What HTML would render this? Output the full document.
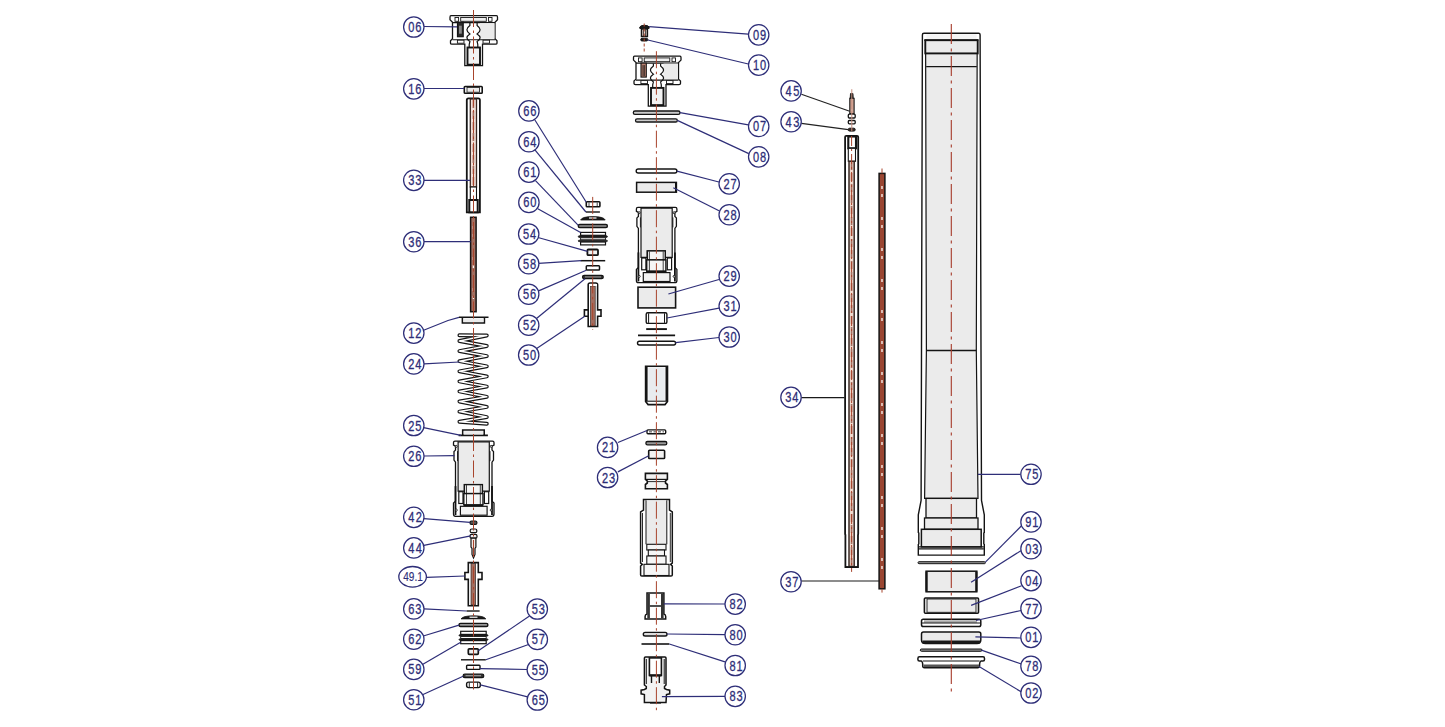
<!DOCTYPE html>
<html><head><meta charset="utf-8"><style>
html,body{margin:0;padding:0;background:#fff;}
svg{display:block;font-family:"Liberation Sans",sans-serif;}
</style></head><body>
<svg width="1445" height="727" viewBox="0 0 1445 727">
<rect width="1445" height="727" fill="#fff"/>
<path d="M451,15.7 L496.5,15.7 Q497.5,15.7 497.5,17.2 L497.5,19.7 L495,22.2 L495,38.7 L497,40.7 L497,43.2 Q497,44.2 495.5,44.2 L482.5,44.2 L482.5,65.7 L464.8,65.7 L464.8,44.2 L452,44.2 Q450.5,44.2 450.5,43.2 L450.5,40.7 L452.5,38.7 L452.5,22.2 L450,19.7 L450,17.2 Q450,15.7 451,15.7 Z" fill="#fff" stroke="#141414" stroke-width="1.3" />
<line x1="452.5" y1="22.7" x2="495" y2="22.7" stroke="#141414" stroke-width="1.2"/>
<rect x="455" y="17.5" width="3.60" height="3.80" rx="0" fill="#fff" stroke="#141414" stroke-width="0.9"/>
<rect x="460.7" y="17.5" width="25.60" height="3.80" rx="0" fill="#f0f0f0" stroke="#141414" stroke-width="0.9"/>
<rect x="488.5" y="17.5" width="3.50" height="3.80" rx="0" fill="#fff" stroke="#141414" stroke-width="0.9"/>
<rect x="480" y="23.2" width="14.5" height="15.5" fill="#ebebeb"/>
<line x1="452.5" y1="39.7" x2="495" y2="39.7" stroke="#141414" stroke-width="1.1"/>
<rect x="457.4" y="40.2" width="6.60" height="3.00" rx="0" fill="#fff" stroke="#141414" stroke-width="0.9"/>
<rect x="483" y="40.2" width="6.50" height="3.00" rx="0" fill="#fff" stroke="#141414" stroke-width="0.9"/>
<path d="M469.9,23.0 L469.9,25.5 Q463.9,29.7 469.9,33.9 Q463.9,37.7 469.9,41.5 L469.2,44.5 L469.2,47.5 M477.1,23.0 L477.1,25.5 Q483.1,29.7 477.1,33.9 Q483.1,37.7 477.1,41.5 L477.8,44.5 L477.8,47.5" fill="none" stroke="#141414" stroke-width="1.2" />
<rect x="457.5" y="22.2" width="5.70" height="14.50" rx="0" fill="#2a2a2a" stroke="#141414" stroke-width="1.2"/>
<rect x="459" y="25.7" width="2.80" height="8.00" rx="0" fill="#888" stroke="#141414" stroke-width="0"/>
<rect x="467.5" y="47.5" width="12.50" height="17.20" rx="0" fill="#f2f2f2" stroke="#141414" stroke-width="1.9"/>
<rect x="464.3" y="86.5" width="17.90" height="6.70" rx="0.8" fill="#fff" stroke="#141414" stroke-width="1.6"/>
<rect x="467" y="87.5" width="12.50" height="4.70" rx="0" fill="#ebebeb" stroke="#141414" stroke-width="0.8"/>
<path d="M466.8,212.3 L466.8,100 Q466.8,98.3 468.5,98.3 L478.2,98.3 Q479.9,98.3 479.9,100 L479.9,212.3 Z" fill="#fff" stroke="#141414" stroke-width="1.8" />
<rect x="470.3" y="99" width="6.20" height="88.00" rx="0" fill="#f1e0d8" stroke="#3a2a25" stroke-width="1.3"/>
<line x1="473.4" y1="100" x2="473.4" y2="186" stroke="#a26e60" stroke-width="1.6" stroke-dasharray="8 3"/>
<rect x="470.3" y="187" width="6.20" height="13.00" rx="0" fill="#fff" stroke="#141414" stroke-width="1.1"/>
<rect x="469.3" y="200" width="8.40" height="12.30" rx="0" fill="#fff" stroke="#141414" stroke-width="2.0"/>
<rect x="470.6" y="217.3" width="5.50" height="94.40" rx="0" fill="#a26e60" stroke="#141414" stroke-width="1.5"/>
<line x1="473.4" y1="226" x2="473.4" y2="310" stroke="#fbf0ea" stroke-width="1.3" stroke-dasharray="3 5 3 20"/>
<path d="M459,317.3 L488.5,317.3 M462.4,317.3 L462.4,323 L484.4,323 L484.4,317.3" fill="none" stroke="#141414" stroke-width="1.6" />
<rect x="463.5" y="318.4" width="20" height="3.6" fill="#ebebeb"/>
<path d="M459.4,335.3 L486.8,335.5 L459.4,341.0 L486.8,346.0 L459.4,351.1 L486.8,356.1 L459.4,361.2 L486.8,366.3 L459.4,371.3 L486.8,376.4 L459.4,381.4 L486.8,386.6 L459.4,391.4 L486.8,396.8 L459.4,401.5 L486.8,406.9 L459.4,411.6 L486.8,417.1 L459.4,421.7 L486.8,423.8" fill="none" stroke="#141414" stroke-width="3.9" stroke-linejoin="round" stroke-linecap="round"/>
<path d="M459.4,335.3 L486.8,335.5 L459.4,341.0 L486.8,346.0 L459.4,351.1 L486.8,356.1 L459.4,361.2 L486.8,366.3 L459.4,371.3 L486.8,376.4 L459.4,381.4 L486.8,386.6 L459.4,391.4 L486.8,396.8 L459.4,401.5 L486.8,406.9 L459.4,411.6 L486.8,417.1 L459.4,421.7 L486.8,423.8" fill="none" stroke="#fff" stroke-width="1.5" stroke-linejoin="round" stroke-linecap="round"/>
<path d="M458.6,435.4 L487.9,435.4 M462.7,435.4 L462.7,430 L484.2,430 L484.2,435.4" fill="none" stroke="#141414" stroke-width="1.6" />
<rect x="463.8" y="431.1" width="19.3" height="3.3" fill="#ebebeb"/>
<path d="M455.0,441.1 L492.5,441.1 Q494.0,441.1 494.0,442.6 L494.0,445.1 L492.0,446.1 L492.0,450.1 L493.5,451.6 L493.5,460.1 L492.0,462.1 L492.0,501.1 L494.0,503.1 L494.0,514.1 Q494.0,516.4 492.0,516.4 L455.5,516.4 Q453.5,516.4 453.5,514.1 L453.5,503.1 L455.5,501.1 L455.5,462.1 L454.0,460.1 L454.0,451.6 L455.5,450.1 L455.5,446.1 L453.5,445.1 L453.5,442.6 Q453.5,441.1 455.0,441.1 Z" fill="#fff" stroke="#141414" stroke-width="1.3" />
<path d="M458.1,441.8 L489.3,441.8 L489.3,491.1 L482.4,491.1 L482.4,484.6 L464.4,484.6 L464.4,491.1 L458.1,491.1 Z" fill="#ebebeb" stroke="#141414" stroke-width="1.2" />
<rect x="464.4" y="484.6" width="18.00" height="9.00" rx="0" fill="#f6f6f6" stroke="#141414" stroke-width="1.4"/>
<rect x="463.8" y="493.6" width="19.20" height="11.30" rx="0" fill="#f6f6f6" stroke="#141414" stroke-width="1.4"/>
<line x1="466.5" y1="485.1" x2="466.5" y2="504.6" stroke="#141414" stroke-width="0.8"/>
<line x1="480.3" y1="485.1" x2="480.3" y2="504.6" stroke="#141414" stroke-width="0.8"/>
<line x1="463.8" y1="505.4" x2="483.0" y2="505.4" stroke="#141414" stroke-width="2.0"/>
<rect x="458.8" y="491.7" width="4.20" height="11.80" rx="0" fill="#fff" stroke="#141414" stroke-width="1.2"/>
<rect x="484.4" y="491.7" width="4.30" height="11.80" rx="0" fill="#fff" stroke="#141414" stroke-width="1.2"/>
<line x1="455.5" y1="486.1" x2="455.5" y2="515.1" stroke="#141414" stroke-width="1.8"/>
<line x1="492.0" y1="486.1" x2="492.0" y2="515.1" stroke="#141414" stroke-width="1.8"/>
<rect x="460.4" y="506.3" width="26.70" height="8.90" rx="0" fill="#f3f3f3" stroke="#141414" stroke-width="1.2"/>
<line x1="457.5" y1="451.1" x2="457.5" y2="461.1" stroke="#141414" stroke-width="0.9"/>
<line x1="490.0" y1="451.1" x2="490.0" y2="461.1" stroke="#141414" stroke-width="0.9"/>
<circle cx="456.3" cy="446.4" r="1" fill="#fff" stroke="#141414" stroke-width="0.9"/>
<circle cx="491.2" cy="446.4" r="1" fill="#fff" stroke="#141414" stroke-width="0.9"/>
<circle cx="456.3" cy="510.1" r="1" fill="#fff" stroke="#141414" stroke-width="0.9"/>
<circle cx="491.2" cy="510.1" r="1" fill="#fff" stroke="#141414" stroke-width="0.9"/>
<rect x="470" y="521" width="6.90" height="3.40" rx="1.5" fill="#555" stroke="#141414" stroke-width="1.2"/>
<rect x="470.2" y="529" width="6.60" height="3.70" rx="1.5" fill="#eee" stroke="#141414" stroke-width="1.2"/>
<rect x="470" y="534.4" width="7.00" height="3.80" rx="1.5" fill="#eee" stroke="#141414" stroke-width="1.2"/>
<path d="M471,538.2 L475.9,538.2 L475.9,547 L475,548.5 L475,554.5 L473.5,558 L472,554.5 L472,548.5 L471,547 Z" fill="#f4e8e2" stroke="#141414" stroke-width="1.2" />
<path d="M468.3,562.6 L478.3,562.6 L478.3,572.5 L482,572.5 L482,579.4 L478.3,579.4 L478.3,605.8 L468.3,605.8 L468.3,579.4 L464.9,579.4 L464.9,572.5 L468.3,572.5 Z" fill="#fff" stroke="#141414" stroke-width="1.6" />
<rect x="471" y="563.5" width="4.60" height="41.50" rx="0" fill="#a26e60" stroke="#141414" stroke-width="0.6"/>
<line x1="466.6" y1="611" x2="479.6" y2="611" stroke="#141414" stroke-width="1.4"/>
<path d="M461,618.9 Q463,615.8 473.5,615.8 Q484,615.8 485.8,618.9 Z" fill="#1a1a1a" stroke="#141414" stroke-width="0.8" />
<rect x="469.5" y="616.6" width="8" height="1.2" fill="#fff"/>
<rect x="459" y="623.4" width="28.90" height="3.10" rx="1.5" fill="#999" stroke="#141414" stroke-width="1.4"/>
<rect x="460.7" y="631.3" width="25.50" height="3.10" rx="0" fill="#fff" stroke="#141414" stroke-width="1.2"/>
<rect x="459" y="634.7" width="29.00" height="1.40" rx="0.7" fill="#222" stroke="#141414" stroke-width="0.8"/>
<rect x="460.7" y="636.5" width="25.50" height="2.00" rx="0" fill="#fff" stroke="#141414" stroke-width="0.9"/>
<rect x="459" y="638.9" width="29.00" height="1.30" rx="0.7" fill="#222" stroke="#141414" stroke-width="0.8"/>
<rect x="460.7" y="640.6" width="25.50" height="3.10" rx="0" fill="#fff" stroke="#141414" stroke-width="1.2"/>
<rect x="468.3" y="648.8" width="10.00" height="5.50" rx="1" fill="#eee" stroke="#141414" stroke-width="1.7"/>
<line x1="461" y1="659.8" x2="485.8" y2="659.8" stroke="#141414" stroke-width="1.4"/>
<rect x="466.6" y="665.3" width="13.40" height="4.10" rx="0.8" fill="#fff" stroke="#141414" stroke-width="1.4"/>
<rect x="463.1" y="674.2" width="20.70" height="3.50" rx="1.7" fill="#333" stroke="#141414" stroke-width="1.2"/>
<rect x="465.5" y="675.3" width="15.5" height="0.9" fill="#bbb"/>
<rect x="466.6" y="682.1" width="13.70" height="5.50" rx="2" fill="#fff" stroke="#141414" stroke-width="1.4"/>
<line x1="469.3" y1="682.3" x2="469.3" y2="687.4" stroke="#141414" stroke-width="0.9"/>
<line x1="477.6" y1="682.3" x2="477.6" y2="687.4" stroke="#141414" stroke-width="0.9"/>
<rect x="586.3" y="201.8" width="13.60" height="4.90" rx="0.8" fill="#fff" stroke="#141414" stroke-width="1.6"/>
<line x1="589" y1="202.5" x2="589" y2="206" stroke="#141414" stroke-width="0.8"/>
<line x1="597.2" y1="202.5" x2="597.2" y2="206" stroke="#141414" stroke-width="0.8"/>
<line x1="585.9" y1="212" x2="599.9" y2="212" stroke="#141414" stroke-width="1.4"/>
<path d="M580.6,220 Q582,216.6 592.9,216.6 Q603.8,216.6 605.2,220 Z" fill="#1a1a1a" stroke="#141414" stroke-width="0.8" />
<rect x="589" y="217.4" width="7.5" height="1.2" fill="#fff"/>
<rect x="578.3" y="224.5" width="29.10" height="3.00" rx="1.5" fill="#999" stroke="#141414" stroke-width="1.4"/>
<rect x="580.6" y="232.4" width="24.90" height="2.90" rx="0" fill="#fff" stroke="#141414" stroke-width="1.2"/>
<rect x="578.3" y="235.8" width="29.10" height="1.60" rx="0.8" fill="#222" stroke="#141414" stroke-width="0.8"/>
<rect x="580.6" y="237.8" width="24.90" height="2.00" rx="0" fill="#fff" stroke="#141414" stroke-width="0.9"/>
<rect x="578.3" y="240.2" width="29.10" height="1.40" rx="0.7" fill="#222" stroke="#141414" stroke-width="0.8"/>
<rect x="580.6" y="242" width="24.90" height="2.90" rx="0" fill="#fff" stroke="#141414" stroke-width="1.2"/>
<rect x="587.4" y="249.5" width="10.60" height="5.70" rx="1" fill="#f2f2f2" stroke="#141414" stroke-width="1.8"/>
<line x1="580.6" y1="260.7" x2="605.2" y2="260.7" stroke="#141414" stroke-width="1.5"/>
<rect x="586.3" y="265.8" width="13.20" height="4.20" rx="0.8" fill="#fff" stroke="#141414" stroke-width="1.5"/>
<rect x="582.5" y="275.3" width="20.80" height="3.40" rx="1.7" fill="#333" stroke="#141414" stroke-width="1.2"/>
<rect x="585" y="276.5" width="16" height="0.9" fill="#aaa"/>
<path d="M588.2,326.5 L588.2,284.8 Q588.2,283 590,283 L595.8,283 Q597.6,283 597.6,284.8 L597.6,309.9 L601,309.9 L601,316.3 L597.6,316.3 L597.6,326.5 Z M588.2,309.9 L584.4,309.9 L584.4,316.3 L588.2,316.3" fill="#fff" stroke="#141414" stroke-width="1.6" />
<rect x="590.6" y="286" width="4.60" height="40.00" rx="0" fill="#a26e60" stroke="#141414" stroke-width="0.6"/>
<rect x="589" y="284" width="8" height="2" fill="#fff"/>
<path d="M639.8,28.4 L639.8,27 Q640.5,25.3 644.5,25.3 Q648.5,25.3 649.1,27 L649.1,28.4 Z" fill="#1a1a1a" stroke="#141414" stroke-width="1" />
<rect x="641.5" y="28.9" width="5.90" height="7.60" rx="0" fill="#e8d8d0" stroke="#141414" stroke-width="1.5"/>
<line x1="643.5" y1="29.5" x2="643.5" y2="36" stroke="#141414" stroke-width="0.7"/>
<line x1="645.5" y1="29.5" x2="645.5" y2="36" stroke="#141414" stroke-width="0.7"/>
<rect x="640.7" y="38.3" width="7.10" height="2.70" rx="1.3" fill="#1a1a1a" stroke="#141414" stroke-width="0.9"/>
<path d="M634.5,56.1 L680.0,56.1 Q681.0,56.1 681.0,57.6 L681.0,60.1 L678.5,62.6 L678.5,79.1 L680.5,81.1 L680.5,83.6 Q680.5,84.6 679.0,84.6 L666.0,84.6 L666.0,106.1 L648.3,106.1 L648.3,84.6 L635.5,84.6 Q634.0,84.6 634.0,83.6 L634.0,81.1 L636.0,79.1 L636.0,62.6 L633.5,60.1 L633.5,57.6 Q633.5,56.1 634.5,56.1 Z" fill="#fff" stroke="#141414" stroke-width="1.3" />
<line x1="636.0" y1="63.1" x2="678.5" y2="63.1" stroke="#141414" stroke-width="1.2"/>
<rect x="638.5" y="57.9" width="3.60" height="3.80" rx="0" fill="#fff" stroke="#141414" stroke-width="0.9"/>
<rect x="644.2" y="57.9" width="25.60" height="3.80" rx="0" fill="#f0f0f0" stroke="#141414" stroke-width="0.9"/>
<rect x="672.0" y="57.9" width="3.50" height="3.80" rx="0" fill="#fff" stroke="#141414" stroke-width="0.9"/>
<rect x="663.5" y="63.6" width="14.5" height="15.5" fill="#ebebeb"/>
<line x1="636.0" y1="80.1" x2="678.5" y2="80.1" stroke="#141414" stroke-width="1.1"/>
<rect x="640.9" y="80.6" width="6.60" height="3.00" rx="0" fill="#fff" stroke="#141414" stroke-width="0.9"/>
<rect x="666.5" y="80.6" width="6.50" height="3.00" rx="0" fill="#fff" stroke="#141414" stroke-width="0.9"/>
<path d="M653.4,63.4 L653.4,65.9 Q647.4,70.1 653.4,74.3 Q647.4,78.1 653.4,81.9 L652.7,84.9 L652.7,87.9 M660.6,63.4 L660.6,65.9 Q666.6,70.1 660.6,74.3 Q666.6,78.1 660.6,81.9 L661.3,84.9 L661.3,87.9" fill="none" stroke="#141414" stroke-width="1.2" />
<rect x="641.0" y="63.1" width="5.30" height="14.00" rx="0" fill="#b88070" stroke="#141414" stroke-width="1.1"/>
<line x1="643.0" y1="65.1" x2="643.0" y2="76.1" stroke="#141414" stroke-width="0.8"/>
<line x1="644.3" y1="65.1" x2="644.3" y2="76.1" stroke="#141414" stroke-width="0.8"/>
<rect x="651.0" y="87.9" width="12.50" height="17.20" rx="0" fill="#f2f2f2" stroke="#141414" stroke-width="1.9"/>
<rect x="633.3" y="111" width="46.70" height="3.40" rx="1.7000000000000028" fill="#ccc" stroke="#141414" stroke-width="1.3"/>
<rect x="635.5" y="118.8" width="41.80" height="3.20" rx="1.6000000000000014" fill="#ccc" stroke="#141414" stroke-width="1.3"/>
<rect x="636.2" y="169" width="40.70" height="4.00" rx="2.0" fill="#fff" stroke="#141414" stroke-width="1.4"/>
<rect x="636.6" y="182.4" width="39.80" height="9.80" rx="0" fill="#ebebeb" stroke="#141414" stroke-width="1.5"/>
<line x1="675.8" y1="182.6" x2="675.8" y2="192" stroke="#141414" stroke-width="1.6"/>
<path d="M637.9,207.4 L675.4,207.4 Q676.9,207.4 676.9,208.9 L676.9,211.4 L674.9,212.4 L674.9,216.4 L676.4,217.9 L676.4,226.4 L674.9,228.4 L674.9,267.4 L676.9,269.4 L676.9,280.4 Q676.9,282.7 674.9,282.7 L638.4,282.7 Q636.4,282.7 636.4,280.4 L636.4,269.4 L638.4,267.4 L638.4,228.4 L636.9,226.4 L636.9,217.9 L638.4,216.4 L638.4,212.4 L636.4,211.4 L636.4,208.9 Q636.4,207.4 637.9,207.4 Z" fill="#fff" stroke="#141414" stroke-width="1.3" />
<path d="M641.0,208.1 L672.2,208.1 L672.2,257.4 L665.3,257.4 L665.3,250.9 L647.3,250.9 L647.3,257.4 L641.0,257.4 Z" fill="#ebebeb" stroke="#141414" stroke-width="1.2" />
<rect x="647.3" y="250.9" width="18.00" height="9.00" rx="0" fill="#f6f6f6" stroke="#141414" stroke-width="1.4"/>
<rect x="646.7" y="259.9" width="19.20" height="11.30" rx="0" fill="#f6f6f6" stroke="#141414" stroke-width="1.4"/>
<line x1="649.4" y1="251.4" x2="649.4" y2="270.9" stroke="#141414" stroke-width="0.8"/>
<line x1="663.2" y1="251.4" x2="663.2" y2="270.9" stroke="#141414" stroke-width="0.8"/>
<line x1="646.7" y1="271.7" x2="665.9" y2="271.7" stroke="#141414" stroke-width="2.0"/>
<rect x="641.7" y="258.0" width="4.20" height="11.80" rx="0" fill="#fff" stroke="#141414" stroke-width="1.2"/>
<rect x="667.3" y="258.0" width="4.30" height="11.80" rx="0" fill="#fff" stroke="#141414" stroke-width="1.2"/>
<line x1="638.4" y1="252.4" x2="638.4" y2="281.4" stroke="#141414" stroke-width="1.8"/>
<line x1="674.9" y1="252.4" x2="674.9" y2="281.4" stroke="#141414" stroke-width="1.8"/>
<rect x="643.3" y="272.6" width="26.70" height="8.90" rx="0" fill="#f3f3f3" stroke="#141414" stroke-width="1.2"/>
<line x1="640.4" y1="217.4" x2="640.4" y2="227.4" stroke="#141414" stroke-width="0.9"/>
<line x1="672.9" y1="217.4" x2="672.9" y2="227.4" stroke="#141414" stroke-width="0.9"/>
<circle cx="639.2" cy="212.7" r="1" fill="#fff" stroke="#141414" stroke-width="0.9"/>
<circle cx="674.1" cy="212.7" r="1" fill="#fff" stroke="#141414" stroke-width="0.9"/>
<circle cx="639.2" cy="276.4" r="1" fill="#fff" stroke="#141414" stroke-width="0.9"/>
<circle cx="674.1" cy="276.4" r="1" fill="#fff" stroke="#141414" stroke-width="0.9"/>
<rect x="638" y="287.2" width="37.60" height="20.70" rx="0" fill="#ebebeb" stroke="#141414" stroke-width="1.6"/>
<rect x="646.2" y="312.8" width="20.70" height="10.60" rx="1.5" fill="#fff" stroke="#141414" stroke-width="1.4"/>
<line x1="648.6" y1="313.3" x2="648.6" y2="322.9" stroke="#141414" stroke-width="1"/>
<line x1="664.5" y1="313.3" x2="664.5" y2="322.9" stroke="#141414" stroke-width="1"/>
<line x1="646.2" y1="329.1" x2="666.9" y2="329.1" stroke="#141414" stroke-width="1.9"/>
<line x1="638" y1="335.4" x2="675.1" y2="335.4" stroke="#141414" stroke-width="1.9"/>
<rect x="637.5" y="341.2" width="38.10" height="3.80" rx="1.9000000000000057" fill="#fff" stroke="#141414" stroke-width="1.4"/>
<path d="M645.6,366.2 L667.5,366.2 L667.5,401.5 L665,404.6 L648.1,404.6 L645.6,401.5 Z" fill="#fff" stroke="#141414" stroke-width="1.6" />
<line x1="646.8" y1="366.8" x2="646.8" y2="401" stroke="#141414" stroke-width="1.6"/>
<line x1="666.3" y1="366.8" x2="666.3" y2="401" stroke="#141414" stroke-width="1.6"/>
<rect x="648.3" y="367.4" width="16.5" height="33" fill="#e9ecef"/>
<line x1="645.8" y1="401.2" x2="667.3" y2="401.2" stroke="#141414" stroke-width="1.1"/>
<rect x="647" y="429.9" width="18.70" height="3.90" rx="1" fill="#fff" stroke="#141414" stroke-width="1.4"/>
<line x1="649" y1="431.85" x2="664" y2="431.85" stroke="#444" stroke-width="1" stroke-dasharray="3 1.5"/>
<rect x="645.9" y="441.5" width="20.90" height="3.30" rx="1.6" fill="#999" stroke="#141414" stroke-width="1.3"/>
<rect x="648.7" y="450.3" width="15.90" height="8.20" rx="0.8" fill="#f2f2f2" stroke="#141414" stroke-width="1.6"/>
<path d="M645.4,473.4 L667.4,473.4 L667.4,479.4 L665.5,481 L665.5,483 L667.4,484.5 L667.4,488.8 L645.4,488.8 L645.4,484.5 L647.3,483 L647.3,481 L645.4,479.4 Z" fill="#f2f2f2" stroke="#141414" stroke-width="1.6" />
<line x1="645.4" y1="479.4" x2="667.4" y2="479.4" stroke="#141414" stroke-width="1.2"/>
<line x1="647.3" y1="481.6" x2="665.5" y2="481.6" stroke="#141414" stroke-width="0.9"/>
<path d="M643.5,499.6 L669.5,499.6 L669.5,510 L672.3,512 L672.3,563 L670.5,564.3 L672.3,566 L672.3,575 Q672.3,576 671,576 L641.8,576 Q640.6,576 640.6,575 L640.6,566 L642.4,564.3 L640.6,563 L640.6,512 L643.5,510 Z" fill="#fff" stroke="#141414" stroke-width="1.5" />
<rect x="646" y="500.3" width="20.8" height="44" fill="#ebebeb"/>
<line x1="646" y1="500.3" x2="646" y2="544.3" stroke="#141414" stroke-width="1"/>
<line x1="666.8" y1="500.3" x2="666.8" y2="544.3" stroke="#141414" stroke-width="1"/>
<line x1="642.5" y1="513" x2="642.5" y2="562" stroke="#141414" stroke-width="0.9"/>
<line x1="670.3" y1="513" x2="670.3" y2="562" stroke="#141414" stroke-width="0.9"/>
<rect x="646.8" y="544.3" width="19.20" height="5.70" rx="0" fill="#f6f6f6" stroke="#141414" stroke-width="1.1"/>
<rect x="648.3" y="550" width="16.20" height="6.00" rx="0" fill="#f6f6f6" stroke="#141414" stroke-width="1.1"/>
<rect x="646.8" y="556" width="19.20" height="8.30" rx="0" fill="#f6f6f6" stroke="#141414" stroke-width="1.1"/>
<rect x="644" y="564.3" width="25.00" height="11.20" rx="0" fill="#f6f6f6" stroke="#141414" stroke-width="1.1"/>
<path d="M647,593 L663.9,593 L663.9,614 Q665.7,614.5 665.7,616.5 L665.7,619 L645.1,619 L645.1,616.5 Q645.1,614.5 647,614 Z" fill="#fff" stroke="#141414" stroke-width="1.5" />
<rect x="647.3" y="593.5" width="2.6" height="25" fill="#333"/>
<rect x="661" y="593.5" width="2.6" height="25" fill="#333"/>
<line x1="649.9" y1="606" x2="661" y2="606" stroke="#141414" stroke-width="1.5"/>
<rect x="643.3" y="632.4" width="23.70" height="3.60" rx="1.8000000000000114" fill="#ddd" stroke="#141414" stroke-width="1.4"/>
<line x1="641.5" y1="644" x2="669.3" y2="644" stroke="#141414" stroke-width="1.6"/>
<path d="M645.5,657 L665,657 Q666,657 666,658 L666,685 L664.5,686.5 L664.5,688.5 L666.5,689.5 L669.7,690.2 L669.7,693.8 L666.5,694.5 L666,702.6 L644.4,702.6 L644.4,694.5 L641.1,693.8 L641.1,690.2 L644.4,689.5 L646.3,688.5 L646.3,686.5 L644.4,685 L644.4,658 Q644.4,657 645.5,657 Z" fill="#f3f3f3" stroke="#141414" stroke-width="1.5" />
<line x1="646.3" y1="659" x2="646.3" y2="684" stroke="#141414" stroke-width="1.0"/>
<line x1="664.2" y1="659" x2="664.2" y2="684" stroke="#141414" stroke-width="1.0"/>
<rect x="649.4" y="657.9" width="12.00" height="17.50" rx="0" fill="#fff" stroke="#141414" stroke-width="1.6"/>
<line x1="649.4" y1="675.4" x2="661.4" y2="675.4" stroke="#141414" stroke-width="2.2"/>
<line x1="651.5" y1="676" x2="651.5" y2="683" stroke="#141414" stroke-width="1.4"/>
<line x1="659.3" y1="676" x2="659.3" y2="683" stroke="#141414" stroke-width="1.4"/>
<line x1="650" y1="702.8" x2="661" y2="702.8" stroke="#141414" stroke-width="1.6"/>
<path d="M850.5,93.5 L853,93.5 L853.3,98.3 L850.2,98.3 Z" fill="#1a1a1a" stroke="#141414" stroke-width="0.8" />
<rect x="849.8" y="98.3" width="4.30" height="15.40" rx="0" fill="#d4a898" stroke="#141414" stroke-width="1.1"/>
<rect x="848.3" y="114.2" width="6.90" height="3.80" rx="1" fill="#fff" stroke="#141414" stroke-width="1.3"/>
<rect x="848.3" y="120.5" width="6.90" height="3.30" rx="1" fill="#fff" stroke="#141414" stroke-width="1.3"/>
<rect x="848.3" y="128.2" width="6.90" height="2.90" rx="1.4" fill="#3a2a25" stroke="#141414" stroke-width="1"/>
<path d="M845.4,567.1 L845.4,535 L845.1,534 L845.1,137 Q845.1,135.8 846.3,135.8 L857,135.8 Q858.2,135.8 858.2,137 L858.2,534 L858,535 L858,567.1 Z" fill="#fff" stroke="#141414" stroke-width="1.8" />
<rect x="848.3" y="136.5" width="7.70" height="11.80" rx="0" fill="#fff" stroke="#141414" stroke-width="2.1"/>
<rect x="848.3" y="148.3" width="7.20" height="13.00" rx="0" fill="#fff" stroke="#141414" stroke-width="1.1"/>
<rect x="849" y="161.3" width="5.20" height="405.20" rx="0" fill="#f0d8cc" stroke="#3a2a25" stroke-width="1.5"/>
<line x1="851.6" y1="162" x2="851.6" y2="566" stroke="#a26e60" stroke-width="1.6" stroke-dasharray="8 3"/>
<path d="M845.4,567.1 L858,567.1" fill="none" stroke="#141414" stroke-width="1.6" />
<rect x="879.1" y="173.4" width="5.80" height="415.40" rx="0" fill="#9a4632" stroke="#141414" stroke-width="1.5"/>
<line x1="882" y1="186" x2="882" y2="586" stroke="#fbf0ea" stroke-width="1.4" stroke-dasharray="3 5 3 20"/>
<line x1="882" y1="168.5" x2="882" y2="173.4" stroke="#a8442c" stroke-width="1"/>
<line x1="882" y1="588.8" x2="882" y2="592.6" stroke="#a8442c" stroke-width="1"/>
<path d="M924,33.2 L978.6,33.2 Q980.1,33.2 980.1,34.7 L981,350 L981.5,500.5 L984.3,514.9 L984.3,532.4 L983.8,533 L983.8,543.8 L984.3,544.5 L984.3,555.1 L918.3,555.1 L918.3,544.5 L918.8,543.8 L918.8,533 L918.3,532.4 L918.3,514.9 L921.1,500.5 L921.5,350 L922.4,34.7 Q922.4,33.2 924,33.2 Z" fill="#fff" stroke="#141414" stroke-width="1.4" />
<path d="M925.6,40.2 L977.2,40.2 L976.3,350 L978,498.4 L924.6,498.4 L926.4,350 Z" fill="#ebebeb" stroke="#141414" stroke-width="1.2" />
<rect x="926.5" y="34.2" width="50" height="5.6" fill="#f4f4f4"/>
<line x1="924.3" y1="40.2" x2="978.3" y2="40.2" stroke="#141414" stroke-width="1.5"/>
<rect x="925.3" y="40.2" width="52.40" height="13.20" rx="0" fill="#ebebeb" stroke="#141414" stroke-width="1.9"/>
<line x1="926.2" y1="66.6" x2="976.8" y2="66.6" stroke="#141414" stroke-width="1.4"/>
<line x1="926.5" y1="350.5" x2="976.4" y2="350.5" stroke="#141414" stroke-width="1.3"/>
<rect x="926" y="498.4" width="50.50" height="19.60" rx="0" fill="#ebebeb" stroke="#141414" stroke-width="1.3"/>
<rect x="924.5" y="518" width="53.50" height="11.30" rx="0" fill="#ebebeb" stroke="#141414" stroke-width="1.3"/>
<rect x="921.4" y="529.3" width="59.80" height="17.60" rx="0" fill="#ebebeb" stroke="#141414" stroke-width="1.5"/>
<line x1="918.8" y1="546.9" x2="983.8" y2="546.9" stroke="#141414" stroke-width="1.3"/>
<line x1="918.8" y1="548.9" x2="983.8" y2="548.9" stroke="#141414" stroke-width="1.2"/>
<rect x="918" y="561.7" width="67.40" height="2.00" rx="1.0" fill="#999" stroke="#141414" stroke-width="1.0"/>
<rect x="926.1" y="571.2" width="50.70" height="20.60" rx="0" fill="#ebebeb" stroke="#141414" stroke-width="1.5"/>
<line x1="926.6" y1="571.5" x2="926.6" y2="591.5" stroke="#141414" stroke-width="2.2"/>
<line x1="976.3" y1="571.5" x2="976.3" y2="591.5" stroke="#141414" stroke-width="2.2"/>
<rect x="924.4" y="598" width="54.10" height="15.30" rx="1" fill="#fff" stroke="#141414" stroke-width="1.6"/>
<rect x="927" y="599" width="49.00" height="13.30" rx="0" fill="#ebebeb" stroke="#141414" stroke-width="0.9"/>
<rect x="921.5" y="619.3" width="59.30" height="7.20" rx="1.8" fill="#fff" stroke="#141414" stroke-width="1.5"/>
<rect x="924" y="620.3" width="53" height="2.5" fill="#aaa"/>
<line x1="922" y1="623" x2="980.3" y2="623" stroke="#141414" stroke-width="1"/>
<path d="M923.5,632 L978.8,632 Q980.8,632 980.8,634 L980.8,640 Q980.8,643.5 977,643.5 L925.5,643.5 Q921.5,643.5 921.5,640 L921.5,634 Q921.5,632 923.5,632 Z" fill="#ebebeb" stroke="#141414" stroke-width="1.5" />
<rect x="922.5" y="640.5" width="57.5" height="3" fill="#1a1a1a"/>
<rect x="920.3" y="649" width="61.70" height="2.30" rx="1.1499999999999773" fill="#888" stroke="#141414" stroke-width="1.0"/>
<path d="M919.5,656.8 L983,656.8 Q984.5,656.8 984.5,658.5 L984.5,659.5 Q984.5,661 983,661 L981,661 Q979.6,662 979.6,664 L979.6,666 Q979.6,667.7 978,667.7 L924.5,667.7 Q922.7,667.7 922.7,666 L922.7,664 Q922.7,662 921.3,661 L919.5,661 Q917.9,661 917.9,659.5 L917.9,658.5 Q917.9,656.8 919.5,656.8 Z" fill="#fff" stroke="#141414" stroke-width="1.5" />
<line x1="922.7" y1="661" x2="979.6" y2="661" stroke="#141414" stroke-width="1.2"/>
<rect x="923.5" y="664.5" width="55.5" height="2.5" fill="#555"/>
<line x1="473.5" y1="10" x2="473.5" y2="692.5" stroke="#a8442c" stroke-width="1.0" stroke-dasharray="17 3.5 2.5 3.5"/>
<line x1="592.7" y1="196.9" x2="592.7" y2="330" stroke="#a8442c" stroke-width="1.0" stroke-dasharray="17 3.5 2.5 3.5"/>
<line x1="644.2" y1="23.5" x2="644.2" y2="52.6" stroke="#a8442c" stroke-width="1.0" stroke-dasharray="3 2"/>
<line x1="656.4" y1="51.2" x2="656.4" y2="711" stroke="#a8442c" stroke-width="1.0" stroke-dasharray="17 3.5 2.5 3.5"/>
<line x1="851.8" y1="89.2" x2="851.8" y2="133" stroke="#c89080" stroke-width="1" stroke-dasharray="20 2"/>
<line x1="851.6" y1="136" x2="851.6" y2="571.9" stroke="#a8442c" stroke-width="1.0" stroke-dasharray="10 3 2 3"/>
<line x1="951.3" y1="24.1" x2="951.3" y2="693" stroke="#a63a2a" stroke-width="1.1" stroke-dasharray="20 4.5 3 4.5"/>
<path d="M424,26.5 L457,26.8" fill="none" stroke="#2e2e78" stroke-width="1.2"/>
<path d="M424,88.5 L464.3,88.5" fill="none" stroke="#2e2e78" stroke-width="1.2"/>
<path d="M424,180.3 L470.3,180.3" fill="none" stroke="#2e2e78" stroke-width="1.2"/>
<path d="M424,241.7 L470.6,241.7" fill="none" stroke="#2e2e78" stroke-width="1.2"/>
<path d="M423.6,330.2 L448,320.5 L459,317.3" fill="none" stroke="#2e2e78" stroke-width="1.2"/>
<path d="M424,363.9 L459.4,362" fill="none" stroke="#2e2e78" stroke-width="1.2"/>
<path d="M423.6,427.7 L461,435.4" fill="none" stroke="#2e2e78" stroke-width="1.2"/>
<path d="M424,456 L454.4,455.7" fill="none" stroke="#2e2e78" stroke-width="1.2"/>
<path d="M424,518.6 L470,522.4" fill="none" stroke="#2e2e78" stroke-width="1.2"/>
<path d="M423.8,545.4 L470.7,535.8" fill="none" stroke="#2e2e78" stroke-width="1.2"/>
<path d="M426.5,577.4 L464.9,576" fill="none" stroke="#2e2e78" stroke-width="1.2"/>
<path d="M424,608.9 L466.6,611" fill="none" stroke="#2e2e78" stroke-width="1.2"/>
<path d="M423.3,636 L459,625.1" fill="none" stroke="#2e2e78" stroke-width="1.2"/>
<path d="M422.5,664.5 L460.7,642.3" fill="none" stroke="#2e2e78" stroke-width="1.2"/>
<path d="M422.5,694.7 L463.1,676.3" fill="none" stroke="#2e2e78" stroke-width="1.2"/>
<path d="M534.9,120 L586.3,202.2" fill="none" stroke="#2e2e78" stroke-width="1.2"/>
<path d="M534.9,149.9 L585.9,212" fill="none" stroke="#2e2e78" stroke-width="1.2"/>
<path d="M535.5,180.7 L578.3,225.3" fill="none" stroke="#2e2e78" stroke-width="1.2"/>
<path d="M537.8,208.7 L580.6,232.4" fill="none" stroke="#2e2e78" stroke-width="1.2"/>
<path d="M538,237.5 L587.5,251.3" fill="none" stroke="#2e2e78" stroke-width="1.2"/>
<path d="M538.4,263.3 L581.3,260.6" fill="none" stroke="#2e2e78" stroke-width="1.2"/>
<path d="M538,291.1 L586.3,270.3" fill="none" stroke="#2e2e78" stroke-width="1.2"/>
<path d="M535.9,319 L585,278.7" fill="none" stroke="#2e2e78" stroke-width="1.2"/>
<path d="M535.9,348.9 L584.8,316.3" fill="none" stroke="#2e2e78" stroke-width="1.2"/>
<path d="M529.5,616 L478.3,650.8" fill="none" stroke="#2e2e78" stroke-width="1.2"/>
<path d="M528.5,644.5 L485.8,659.8" fill="none" stroke="#2e2e78" stroke-width="1.2"/>
<path d="M527.2,669.5 L480,668.7" fill="none" stroke="#2e2e78" stroke-width="1.2"/>
<path d="M527.5,696.8 L480.3,684.9" fill="none" stroke="#2e2e78" stroke-width="1.2"/>
<path d="M748.3,34.2 L649.1,26.6" fill="none" stroke="#2e2e78" stroke-width="1.2"/>
<path d="M748.3,64 L647.8,40" fill="none" stroke="#2e2e78" stroke-width="1.2"/>
<path d="M748.3,124.8 L680,112.7" fill="none" stroke="#2e2e78" stroke-width="1.2"/>
<path d="M748.8,153.6 L677.3,120.4" fill="none" stroke="#2e2e78" stroke-width="1.2"/>
<path d="M718.9,182 L676.9,171.2" fill="none" stroke="#2e2e78" stroke-width="1.2"/>
<path d="M719,210.7 L673.3,187.7" fill="none" stroke="#2e2e78" stroke-width="1.2"/>
<path d="M719,279.5 L668.4,294" fill="none" stroke="#2e2e78" stroke-width="1.2"/>
<path d="M719,308.2 L666.9,318" fill="none" stroke="#2e2e78" stroke-width="1.2"/>
<path d="M719,337.5 L675.6,342.6" fill="none" stroke="#2e2e78" stroke-width="1.2"/>
<path d="M617.9,442.5 L647,430.5" fill="none" stroke="#2e2e78" stroke-width="1.2"/>
<path d="M617.9,471.9 L648.7,455.8" fill="none" stroke="#2e2e78" stroke-width="1.2"/>
<path d="M725,604 L663.9,603.8" fill="none" stroke="#2e2e78" stroke-width="1.2"/>
<path d="M725,634.7 L667,634" fill="none" stroke="#2e2e78" stroke-width="1.2"/>
<path d="M725,661.9 L669.3,644" fill="none" stroke="#2e2e78" stroke-width="1.2"/>
<path d="M725,696.4 L661.9,696.6" fill="none" stroke="#2e2e78" stroke-width="1.2"/>
<path d="M801.4,94.2 L849.7,111.3" fill="none" stroke="#222" stroke-width="1.2"/>
<path d="M801.4,123.3 L848.3,129.6" fill="none" stroke="#222" stroke-width="1.2"/>
<path d="M801.2,397.6 L844.5,397.6" fill="none" stroke="#1a1a1a" stroke-width="1.2"/>
<path d="M801.2,581 L879.1,581" fill="none" stroke="#1a1a1a" stroke-width="1.2"/>
<path d="M1020.7,474.3 L978,474.3" fill="none" stroke="#2e2e78" stroke-width="1.2"/>
<path d="M1021.3,526 L985.4,562.2" fill="none" stroke="#2e2e78" stroke-width="1.2"/>
<path d="M1020.8,550.8 L971.1,582.3" fill="none" stroke="#2e2e78" stroke-width="1.2"/>
<path d="M1021.6,585.8 L971.1,605.4" fill="none" stroke="#2e2e78" stroke-width="1.2"/>
<path d="M1021,610.5 L976,620.5" fill="none" stroke="#2e2e78" stroke-width="1.2"/>
<path d="M1020.8,638 L975.4,636.8" fill="none" stroke="#2e2e78" stroke-width="1.2"/>
<path d="M1021.3,664 L981.4,650.1" fill="none" stroke="#2e2e78" stroke-width="1.2"/>
<path d="M1021.5,692 L979,666.5" fill="none" stroke="#2e2e78" stroke-width="1.2"/>
<circle cx="413.8" cy="27" r="10.2" fill="#fff" stroke="#2e2e78" stroke-width="1.25"/>
<text x="0" y="0" text-anchor="middle" font-size="13.8" fill="#2e2e78" stroke="#2e2e78" stroke-width="0.3" transform="translate(411.20 32.00) scale(0.8 1)">0</text>
<text x="0" y="0" text-anchor="middle" font-size="13.8" fill="#2e2e78" stroke="#2e2e78" stroke-width="0.3" transform="translate(418.20 32.00) scale(0.8 1)">6</text>
<circle cx="413.8" cy="88.8" r="10.2" fill="#fff" stroke="#2e2e78" stroke-width="1.25"/>
<text x="0" y="0" text-anchor="middle" font-size="13.8" fill="#2e2e78" stroke="#2e2e78" stroke-width="0.3" transform="translate(411.20 93.80) scale(0.8 1)">1</text>
<text x="0" y="0" text-anchor="middle" font-size="13.8" fill="#2e2e78" stroke="#2e2e78" stroke-width="0.3" transform="translate(418.20 93.80) scale(0.8 1)">6</text>
<circle cx="413.8" cy="180.3" r="10.2" fill="#fff" stroke="#2e2e78" stroke-width="1.25"/>
<text x="0" y="0" text-anchor="middle" font-size="13.8" fill="#2e2e78" stroke="#2e2e78" stroke-width="0.3" transform="translate(411.20 185.30) scale(0.8 1)">3</text>
<text x="0" y="0" text-anchor="middle" font-size="13.8" fill="#2e2e78" stroke="#2e2e78" stroke-width="0.3" transform="translate(418.20 185.30) scale(0.8 1)">3</text>
<circle cx="413.8" cy="241.7" r="10.2" fill="#fff" stroke="#2e2e78" stroke-width="1.25"/>
<text x="0" y="0" text-anchor="middle" font-size="13.8" fill="#2e2e78" stroke="#2e2e78" stroke-width="0.3" transform="translate(411.20 246.70) scale(0.8 1)">3</text>
<text x="0" y="0" text-anchor="middle" font-size="13.8" fill="#2e2e78" stroke="#2e2e78" stroke-width="0.3" transform="translate(418.20 246.70) scale(0.8 1)">6</text>
<circle cx="413.8" cy="333.1" r="10.2" fill="#fff" stroke="#2e2e78" stroke-width="1.25"/>
<text x="0" y="0" text-anchor="middle" font-size="13.8" fill="#2e2e78" stroke="#2e2e78" stroke-width="0.3" transform="translate(411.20 338.10) scale(0.8 1)">1</text>
<text x="0" y="0" text-anchor="middle" font-size="13.8" fill="#2e2e78" stroke="#2e2e78" stroke-width="0.3" transform="translate(418.20 338.10) scale(0.8 1)">2</text>
<circle cx="413.8" cy="363.9" r="10.2" fill="#fff" stroke="#2e2e78" stroke-width="1.25"/>
<text x="0" y="0" text-anchor="middle" font-size="13.8" fill="#2e2e78" stroke="#2e2e78" stroke-width="0.3" transform="translate(411.20 368.90) scale(0.8 1)">2</text>
<text x="0" y="0" text-anchor="middle" font-size="13.8" fill="#2e2e78" stroke="#2e2e78" stroke-width="0.3" transform="translate(418.20 368.90) scale(0.8 1)">4</text>
<circle cx="413.8" cy="425.5" r="10.2" fill="#fff" stroke="#2e2e78" stroke-width="1.25"/>
<text x="0" y="0" text-anchor="middle" font-size="13.8" fill="#2e2e78" stroke="#2e2e78" stroke-width="0.3" transform="translate(411.20 430.50) scale(0.8 1)">2</text>
<text x="0" y="0" text-anchor="middle" font-size="13.8" fill="#2e2e78" stroke="#2e2e78" stroke-width="0.3" transform="translate(418.20 430.50) scale(0.8 1)">5</text>
<circle cx="413.8" cy="456.3" r="10.2" fill="#fff" stroke="#2e2e78" stroke-width="1.25"/>
<text x="0" y="0" text-anchor="middle" font-size="13.8" fill="#2e2e78" stroke="#2e2e78" stroke-width="0.3" transform="translate(411.20 461.30) scale(0.8 1)">2</text>
<text x="0" y="0" text-anchor="middle" font-size="13.8" fill="#2e2e78" stroke="#2e2e78" stroke-width="0.3" transform="translate(418.20 461.30) scale(0.8 1)">6</text>
<circle cx="413.8" cy="517.3" r="10.2" fill="#fff" stroke="#2e2e78" stroke-width="1.25"/>
<text x="0" y="0" text-anchor="middle" font-size="13.8" fill="#2e2e78" stroke="#2e2e78" stroke-width="0.3" transform="translate(411.20 522.30) scale(0.8 1)">4</text>
<text x="0" y="0" text-anchor="middle" font-size="13.8" fill="#2e2e78" stroke="#2e2e78" stroke-width="0.3" transform="translate(418.90 522.30) scale(0.8 1)">2</text>
<circle cx="413.8" cy="547.9" r="10.2" fill="#fff" stroke="#2e2e78" stroke-width="1.25"/>
<text x="0" y="0" text-anchor="middle" font-size="13.8" fill="#2e2e78" stroke="#2e2e78" stroke-width="0.3" transform="translate(411.20 552.90) scale(0.8 1)">4</text>
<text x="0" y="0" text-anchor="middle" font-size="13.8" fill="#2e2e78" stroke="#2e2e78" stroke-width="0.3" transform="translate(418.90 552.90) scale(0.8 1)">4</text>
<ellipse cx="412.6" cy="576.8" rx="13.8" ry="10.3" fill="#fff" stroke="#2e2e78" stroke-width="1.3"/>
<text x="413.0" y="581.4" text-anchor="middle" font-size="12.5" textLength="19.5" lengthAdjust="spacingAndGlyphs" fill="#2e2e78" stroke="#2e2e78" stroke-width="0.15">49.1</text>
<circle cx="413.8" cy="608.9" r="10.2" fill="#fff" stroke="#2e2e78" stroke-width="1.25"/>
<text x="0" y="0" text-anchor="middle" font-size="13.8" fill="#2e2e78" stroke="#2e2e78" stroke-width="0.3" transform="translate(411.20 613.90) scale(0.8 1)">6</text>
<text x="0" y="0" text-anchor="middle" font-size="13.8" fill="#2e2e78" stroke="#2e2e78" stroke-width="0.3" transform="translate(418.20 613.90) scale(0.8 1)">3</text>
<circle cx="413.8" cy="639.2" r="10.2" fill="#fff" stroke="#2e2e78" stroke-width="1.25"/>
<text x="0" y="0" text-anchor="middle" font-size="13.8" fill="#2e2e78" stroke="#2e2e78" stroke-width="0.3" transform="translate(411.20 644.20) scale(0.8 1)">6</text>
<text x="0" y="0" text-anchor="middle" font-size="13.8" fill="#2e2e78" stroke="#2e2e78" stroke-width="0.3" transform="translate(418.20 644.20) scale(0.8 1)">2</text>
<circle cx="413.8" cy="669.4" r="10.2" fill="#fff" stroke="#2e2e78" stroke-width="1.25"/>
<text x="0" y="0" text-anchor="middle" font-size="13.8" fill="#2e2e78" stroke="#2e2e78" stroke-width="0.3" transform="translate(411.20 674.40) scale(0.8 1)">5</text>
<text x="0" y="0" text-anchor="middle" font-size="13.8" fill="#2e2e78" stroke="#2e2e78" stroke-width="0.3" transform="translate(418.20 674.40) scale(0.8 1)">9</text>
<circle cx="413.8" cy="699.7" r="10.2" fill="#fff" stroke="#2e2e78" stroke-width="1.25"/>
<text x="0" y="0" text-anchor="middle" font-size="13.8" fill="#2e2e78" stroke="#2e2e78" stroke-width="0.3" transform="translate(411.20 704.70) scale(0.8 1)">5</text>
<text x="0" y="0" text-anchor="middle" font-size="13.8" fill="#2e2e78" stroke="#2e2e78" stroke-width="0.3" transform="translate(418.20 704.70) scale(0.8 1)">1</text>
<circle cx="528.9" cy="110.9" r="10.2" fill="#fff" stroke="#2e2e78" stroke-width="1.25"/>
<text x="0" y="0" text-anchor="middle" font-size="13.8" fill="#2e2e78" stroke="#2e2e78" stroke-width="0.3" transform="translate(526.30 115.90) scale(0.8 1)">6</text>
<text x="0" y="0" text-anchor="middle" font-size="13.8" fill="#2e2e78" stroke="#2e2e78" stroke-width="0.3" transform="translate(533.30 115.90) scale(0.8 1)">6</text>
<circle cx="528.9" cy="141.7" r="10.2" fill="#fff" stroke="#2e2e78" stroke-width="1.25"/>
<text x="0" y="0" text-anchor="middle" font-size="13.8" fill="#2e2e78" stroke="#2e2e78" stroke-width="0.3" transform="translate(526.30 146.70) scale(0.8 1)">6</text>
<text x="0" y="0" text-anchor="middle" font-size="13.8" fill="#2e2e78" stroke="#2e2e78" stroke-width="0.3" transform="translate(533.30 146.70) scale(0.8 1)">4</text>
<circle cx="528.9" cy="172.1" r="10.2" fill="#fff" stroke="#2e2e78" stroke-width="1.25"/>
<text x="0" y="0" text-anchor="middle" font-size="13.8" fill="#2e2e78" stroke="#2e2e78" stroke-width="0.3" transform="translate(526.30 177.10) scale(0.8 1)">6</text>
<text x="0" y="0" text-anchor="middle" font-size="13.8" fill="#2e2e78" stroke="#2e2e78" stroke-width="0.3" transform="translate(533.30 177.10) scale(0.8 1)">1</text>
<circle cx="528.9" cy="202.4" r="10.2" fill="#fff" stroke="#2e2e78" stroke-width="1.25"/>
<text x="0" y="0" text-anchor="middle" font-size="13.8" fill="#2e2e78" stroke="#2e2e78" stroke-width="0.3" transform="translate(526.30 207.40) scale(0.8 1)">6</text>
<text x="0" y="0" text-anchor="middle" font-size="13.8" fill="#2e2e78" stroke="#2e2e78" stroke-width="0.3" transform="translate(533.30 207.40) scale(0.8 1)">0</text>
<circle cx="528.7" cy="234" r="10.2" fill="#fff" stroke="#2e2e78" stroke-width="1.25"/>
<text x="0" y="0" text-anchor="middle" font-size="13.8" fill="#2e2e78" stroke="#2e2e78" stroke-width="0.3" transform="translate(526.10 239.00) scale(0.8 1)">5</text>
<text x="0" y="0" text-anchor="middle" font-size="13.8" fill="#2e2e78" stroke="#2e2e78" stroke-width="0.3" transform="translate(533.10 239.00) scale(0.8 1)">4</text>
<circle cx="528.7" cy="263.7" r="10.2" fill="#fff" stroke="#2e2e78" stroke-width="1.25"/>
<text x="0" y="0" text-anchor="middle" font-size="13.8" fill="#2e2e78" stroke="#2e2e78" stroke-width="0.3" transform="translate(526.10 268.70) scale(0.8 1)">5</text>
<text x="0" y="0" text-anchor="middle" font-size="13.8" fill="#2e2e78" stroke="#2e2e78" stroke-width="0.3" transform="translate(533.10 268.70) scale(0.8 1)">8</text>
<circle cx="528.7" cy="294.2" r="10.2" fill="#fff" stroke="#2e2e78" stroke-width="1.25"/>
<text x="0" y="0" text-anchor="middle" font-size="13.8" fill="#2e2e78" stroke="#2e2e78" stroke-width="0.3" transform="translate(526.10 299.20) scale(0.8 1)">5</text>
<text x="0" y="0" text-anchor="middle" font-size="13.8" fill="#2e2e78" stroke="#2e2e78" stroke-width="0.3" transform="translate(533.10 299.20) scale(0.8 1)">6</text>
<circle cx="528.7" cy="325.2" r="10.2" fill="#fff" stroke="#2e2e78" stroke-width="1.25"/>
<text x="0" y="0" text-anchor="middle" font-size="13.8" fill="#2e2e78" stroke="#2e2e78" stroke-width="0.3" transform="translate(526.10 330.20) scale(0.8 1)">5</text>
<text x="0" y="0" text-anchor="middle" font-size="13.8" fill="#2e2e78" stroke="#2e2e78" stroke-width="0.3" transform="translate(533.10 330.20) scale(0.8 1)">2</text>
<circle cx="528.7" cy="355" r="10.2" fill="#fff" stroke="#2e2e78" stroke-width="1.25"/>
<text x="0" y="0" text-anchor="middle" font-size="13.8" fill="#2e2e78" stroke="#2e2e78" stroke-width="0.3" transform="translate(526.10 360.00) scale(0.8 1)">5</text>
<text x="0" y="0" text-anchor="middle" font-size="13.8" fill="#2e2e78" stroke="#2e2e78" stroke-width="0.3" transform="translate(533.10 360.00) scale(0.8 1)">0</text>
<circle cx="537.3" cy="609" r="10.2" fill="#fff" stroke="#2e2e78" stroke-width="1.25"/>
<text x="0" y="0" text-anchor="middle" font-size="13.8" fill="#2e2e78" stroke="#2e2e78" stroke-width="0.3" transform="translate(534.70 614.00) scale(0.8 1)">5</text>
<text x="0" y="0" text-anchor="middle" font-size="13.8" fill="#2e2e78" stroke="#2e2e78" stroke-width="0.3" transform="translate(541.70 614.00) scale(0.8 1)">3</text>
<circle cx="537.3" cy="639.4" r="10.2" fill="#fff" stroke="#2e2e78" stroke-width="1.25"/>
<text x="0" y="0" text-anchor="middle" font-size="13.8" fill="#2e2e78" stroke="#2e2e78" stroke-width="0.3" transform="translate(534.70 644.40) scale(0.8 1)">5</text>
<text x="0" y="0" text-anchor="middle" font-size="13.8" fill="#2e2e78" stroke="#2e2e78" stroke-width="0.3" transform="translate(541.70 644.40) scale(0.8 1)">7</text>
<circle cx="537.3" cy="669.7" r="10.2" fill="#fff" stroke="#2e2e78" stroke-width="1.25"/>
<text x="0" y="0" text-anchor="middle" font-size="13.8" fill="#2e2e78" stroke="#2e2e78" stroke-width="0.3" transform="translate(534.70 674.70) scale(0.8 1)">5</text>
<text x="0" y="0" text-anchor="middle" font-size="13.8" fill="#2e2e78" stroke="#2e2e78" stroke-width="0.3" transform="translate(541.70 674.70) scale(0.8 1)">5</text>
<circle cx="537.3" cy="700" r="10.2" fill="#fff" stroke="#2e2e78" stroke-width="1.25"/>
<text x="0" y="0" text-anchor="middle" font-size="13.8" fill="#2e2e78" stroke="#2e2e78" stroke-width="0.3" transform="translate(534.70 705.00) scale(0.8 1)">6</text>
<text x="0" y="0" text-anchor="middle" font-size="13.8" fill="#2e2e78" stroke="#2e2e78" stroke-width="0.3" transform="translate(541.70 705.00) scale(0.8 1)">5</text>
<circle cx="758.7" cy="34.8" r="10.2" fill="#fff" stroke="#2e2e78" stroke-width="1.25"/>
<text x="0" y="0" text-anchor="middle" font-size="13.8" fill="#2e2e78" stroke="#2e2e78" stroke-width="0.3" transform="translate(756.10 39.80) scale(0.8 1)">0</text>
<text x="0" y="0" text-anchor="middle" font-size="13.8" fill="#2e2e78" stroke="#2e2e78" stroke-width="0.3" transform="translate(763.10 39.80) scale(0.8 1)">9</text>
<circle cx="758.7" cy="65.1" r="10.2" fill="#fff" stroke="#2e2e78" stroke-width="1.25"/>
<text x="0" y="0" text-anchor="middle" font-size="13.8" fill="#2e2e78" stroke="#2e2e78" stroke-width="0.3" transform="translate(756.10 70.10) scale(0.8 1)">1</text>
<text x="0" y="0" text-anchor="middle" font-size="13.8" fill="#2e2e78" stroke="#2e2e78" stroke-width="0.3" transform="translate(763.10 70.10) scale(0.8 1)">0</text>
<circle cx="758.7" cy="126.4" r="10.2" fill="#fff" stroke="#2e2e78" stroke-width="1.25"/>
<text x="0" y="0" text-anchor="middle" font-size="13.8" fill="#2e2e78" stroke="#2e2e78" stroke-width="0.3" transform="translate(756.10 131.40) scale(0.8 1)">0</text>
<text x="0" y="0" text-anchor="middle" font-size="13.8" fill="#2e2e78" stroke="#2e2e78" stroke-width="0.3" transform="translate(763.10 131.40) scale(0.8 1)">7</text>
<circle cx="758.7" cy="156.8" r="10.2" fill="#fff" stroke="#2e2e78" stroke-width="1.25"/>
<text x="0" y="0" text-anchor="middle" font-size="13.8" fill="#2e2e78" stroke="#2e2e78" stroke-width="0.3" transform="translate(756.10 161.80) scale(0.8 1)">0</text>
<text x="0" y="0" text-anchor="middle" font-size="13.8" fill="#2e2e78" stroke="#2e2e78" stroke-width="0.3" transform="translate(763.10 161.80) scale(0.8 1)">8</text>
<circle cx="729.2" cy="183.8" r="10.2" fill="#fff" stroke="#2e2e78" stroke-width="1.25"/>
<text x="0" y="0" text-anchor="middle" font-size="13.8" fill="#2e2e78" stroke="#2e2e78" stroke-width="0.3" transform="translate(726.60 188.80) scale(0.8 1)">2</text>
<text x="0" y="0" text-anchor="middle" font-size="13.8" fill="#2e2e78" stroke="#2e2e78" stroke-width="0.3" transform="translate(733.60 188.80) scale(0.8 1)">7</text>
<circle cx="729.2" cy="214.7" r="10.2" fill="#fff" stroke="#2e2e78" stroke-width="1.25"/>
<text x="0" y="0" text-anchor="middle" font-size="13.8" fill="#2e2e78" stroke="#2e2e78" stroke-width="0.3" transform="translate(726.60 219.70) scale(0.8 1)">2</text>
<text x="0" y="0" text-anchor="middle" font-size="13.8" fill="#2e2e78" stroke="#2e2e78" stroke-width="0.3" transform="translate(733.60 219.70) scale(0.8 1)">8</text>
<circle cx="729.2" cy="276.1" r="10.2" fill="#fff" stroke="#2e2e78" stroke-width="1.25"/>
<text x="0" y="0" text-anchor="middle" font-size="13.8" fill="#2e2e78" stroke="#2e2e78" stroke-width="0.3" transform="translate(726.60 281.10) scale(0.8 1)">2</text>
<text x="0" y="0" text-anchor="middle" font-size="13.8" fill="#2e2e78" stroke="#2e2e78" stroke-width="0.3" transform="translate(733.60 281.10) scale(0.8 1)">9</text>
<circle cx="729.2" cy="306.1" r="10.2" fill="#fff" stroke="#2e2e78" stroke-width="1.25"/>
<text x="0" y="0" text-anchor="middle" font-size="13.8" fill="#2e2e78" stroke="#2e2e78" stroke-width="0.3" transform="translate(726.60 311.10) scale(0.8 1)">3</text>
<text x="0" y="0" text-anchor="middle" font-size="13.8" fill="#2e2e78" stroke="#2e2e78" stroke-width="0.3" transform="translate(733.60 311.10) scale(0.8 1)">1</text>
<circle cx="729.2" cy="337" r="10.2" fill="#fff" stroke="#2e2e78" stroke-width="1.25"/>
<text x="0" y="0" text-anchor="middle" font-size="13.8" fill="#2e2e78" stroke="#2e2e78" stroke-width="0.3" transform="translate(726.60 342.00) scale(0.8 1)">3</text>
<text x="0" y="0" text-anchor="middle" font-size="13.8" fill="#2e2e78" stroke="#2e2e78" stroke-width="0.3" transform="translate(733.60 342.00) scale(0.8 1)">0</text>
<circle cx="607.6" cy="447.4" r="10.2" fill="#fff" stroke="#2e2e78" stroke-width="1.25"/>
<text x="0" y="0" text-anchor="middle" font-size="13.8" fill="#2e2e78" stroke="#2e2e78" stroke-width="0.3" transform="translate(605.00 452.40) scale(0.8 1)">2</text>
<text x="0" y="0" text-anchor="middle" font-size="13.8" fill="#2e2e78" stroke="#2e2e78" stroke-width="0.3" transform="translate(612.00 452.40) scale(0.8 1)">1</text>
<circle cx="607.6" cy="477.5" r="10.2" fill="#fff" stroke="#2e2e78" stroke-width="1.25"/>
<text x="0" y="0" text-anchor="middle" font-size="13.8" fill="#2e2e78" stroke="#2e2e78" stroke-width="0.3" transform="translate(605.00 482.50) scale(0.8 1)">2</text>
<text x="0" y="0" text-anchor="middle" font-size="13.8" fill="#2e2e78" stroke="#2e2e78" stroke-width="0.3" transform="translate(612.00 482.50) scale(0.8 1)">3</text>
<circle cx="735.2" cy="604.1" r="10.2" fill="#fff" stroke="#2e2e78" stroke-width="1.25"/>
<text x="0" y="0" text-anchor="middle" font-size="13.8" fill="#2e2e78" stroke="#2e2e78" stroke-width="0.3" transform="translate(732.60 609.10) scale(0.8 1)">8</text>
<text x="0" y="0" text-anchor="middle" font-size="13.8" fill="#2e2e78" stroke="#2e2e78" stroke-width="0.3" transform="translate(739.60 609.10) scale(0.8 1)">2</text>
<circle cx="735.2" cy="634.7" r="10.2" fill="#fff" stroke="#2e2e78" stroke-width="1.25"/>
<text x="0" y="0" text-anchor="middle" font-size="13.8" fill="#2e2e78" stroke="#2e2e78" stroke-width="0.3" transform="translate(732.60 639.70) scale(0.8 1)">8</text>
<text x="0" y="0" text-anchor="middle" font-size="13.8" fill="#2e2e78" stroke="#2e2e78" stroke-width="0.3" transform="translate(739.60 639.70) scale(0.8 1)">0</text>
<circle cx="735.2" cy="665.5" r="10.2" fill="#fff" stroke="#2e2e78" stroke-width="1.25"/>
<text x="0" y="0" text-anchor="middle" font-size="13.8" fill="#2e2e78" stroke="#2e2e78" stroke-width="0.3" transform="translate(732.60 670.50) scale(0.8 1)">8</text>
<text x="0" y="0" text-anchor="middle" font-size="13.8" fill="#2e2e78" stroke="#2e2e78" stroke-width="0.3" transform="translate(739.60 670.50) scale(0.8 1)">1</text>
<circle cx="735.2" cy="696.3" r="10.2" fill="#fff" stroke="#2e2e78" stroke-width="1.25"/>
<text x="0" y="0" text-anchor="middle" font-size="13.8" fill="#2e2e78" stroke="#2e2e78" stroke-width="0.3" transform="translate(732.60 701.30) scale(0.8 1)">8</text>
<text x="0" y="0" text-anchor="middle" font-size="13.8" fill="#2e2e78" stroke="#2e2e78" stroke-width="0.3" transform="translate(739.60 701.30) scale(0.8 1)">3</text>
<circle cx="791.1" cy="90.9" r="10.2" fill="#fff" stroke="#2e2e78" stroke-width="1.25"/>
<text x="0" y="0" text-anchor="middle" font-size="13.8" fill="#2e2e78" stroke="#2e2e78" stroke-width="0.3" transform="translate(788.50 95.90) scale(0.8 1)">4</text>
<text x="0" y="0" text-anchor="middle" font-size="13.8" fill="#2e2e78" stroke="#2e2e78" stroke-width="0.3" transform="translate(796.20 95.90) scale(0.8 1)">5</text>
<circle cx="791.1" cy="121.7" r="10.2" fill="#fff" stroke="#2e2e78" stroke-width="1.25"/>
<text x="0" y="0" text-anchor="middle" font-size="13.8" fill="#2e2e78" stroke="#2e2e78" stroke-width="0.3" transform="translate(788.50 126.70) scale(0.8 1)">4</text>
<text x="0" y="0" text-anchor="middle" font-size="13.8" fill="#2e2e78" stroke="#2e2e78" stroke-width="0.3" transform="translate(796.20 126.70) scale(0.8 1)">3</text>
<circle cx="791" cy="397.4" r="10.2" fill="#fff" stroke="#2e2e78" stroke-width="1.25"/>
<text x="0" y="0" text-anchor="middle" font-size="13.8" fill="#2e2e78" stroke="#2e2e78" stroke-width="0.3" transform="translate(788.40 402.40) scale(0.8 1)">3</text>
<text x="0" y="0" text-anchor="middle" font-size="13.8" fill="#2e2e78" stroke="#2e2e78" stroke-width="0.3" transform="translate(795.40 402.40) scale(0.8 1)">4</text>
<circle cx="791" cy="581.7" r="10.2" fill="#fff" stroke="#2e2e78" stroke-width="1.25"/>
<text x="0" y="0" text-anchor="middle" font-size="13.8" fill="#2e2e78" stroke="#2e2e78" stroke-width="0.3" transform="translate(788.40 586.70) scale(0.8 1)">3</text>
<text x="0" y="0" text-anchor="middle" font-size="13.8" fill="#2e2e78" stroke="#2e2e78" stroke-width="0.3" transform="translate(795.40 586.70) scale(0.8 1)">7</text>
<circle cx="1031" cy="474.3" r="10.2" fill="#fff" stroke="#2e2e78" stroke-width="1.25"/>
<text x="0" y="0" text-anchor="middle" font-size="13.8" fill="#2e2e78" stroke="#2e2e78" stroke-width="0.3" transform="translate(1028.40 479.30) scale(0.8 1)">7</text>
<text x="0" y="0" text-anchor="middle" font-size="13.8" fill="#2e2e78" stroke="#2e2e78" stroke-width="0.3" transform="translate(1035.40 479.30) scale(0.8 1)">5</text>
<circle cx="1031" cy="521.9" r="10.2" fill="#fff" stroke="#2e2e78" stroke-width="1.25"/>
<text x="0" y="0" text-anchor="middle" font-size="13.8" fill="#2e2e78" stroke="#2e2e78" stroke-width="0.3" transform="translate(1028.40 526.90) scale(0.8 1)">9</text>
<text x="0" y="0" text-anchor="middle" font-size="13.8" fill="#2e2e78" stroke="#2e2e78" stroke-width="0.3" transform="translate(1035.40 526.90) scale(0.8 1)">1</text>
<circle cx="1031" cy="548.7" r="10.2" fill="#fff" stroke="#2e2e78" stroke-width="1.25"/>
<text x="0" y="0" text-anchor="middle" font-size="13.8" fill="#2e2e78" stroke="#2e2e78" stroke-width="0.3" transform="translate(1028.40 553.70) scale(0.8 1)">0</text>
<text x="0" y="0" text-anchor="middle" font-size="13.8" fill="#2e2e78" stroke="#2e2e78" stroke-width="0.3" transform="translate(1035.40 553.70) scale(0.8 1)">3</text>
<circle cx="1031" cy="580.6" r="10.2" fill="#fff" stroke="#2e2e78" stroke-width="1.25"/>
<text x="0" y="0" text-anchor="middle" font-size="13.8" fill="#2e2e78" stroke="#2e2e78" stroke-width="0.3" transform="translate(1028.40 585.60) scale(0.8 1)">0</text>
<text x="0" y="0" text-anchor="middle" font-size="13.8" fill="#2e2e78" stroke="#2e2e78" stroke-width="0.3" transform="translate(1035.40 585.60) scale(0.8 1)">4</text>
<circle cx="1031" cy="608.5" r="10.2" fill="#fff" stroke="#2e2e78" stroke-width="1.25"/>
<text x="0" y="0" text-anchor="middle" font-size="13.8" fill="#2e2e78" stroke="#2e2e78" stroke-width="0.3" transform="translate(1028.40 613.50) scale(0.8 1)">7</text>
<text x="0" y="0" text-anchor="middle" font-size="13.8" fill="#2e2e78" stroke="#2e2e78" stroke-width="0.3" transform="translate(1035.40 613.50) scale(0.8 1)">7</text>
<circle cx="1031" cy="637.3" r="10.2" fill="#fff" stroke="#2e2e78" stroke-width="1.25"/>
<text x="0" y="0" text-anchor="middle" font-size="13.8" fill="#2e2e78" stroke="#2e2e78" stroke-width="0.3" transform="translate(1028.40 642.30) scale(0.8 1)">0</text>
<text x="0" y="0" text-anchor="middle" font-size="13.8" fill="#2e2e78" stroke="#2e2e78" stroke-width="0.3" transform="translate(1035.40 642.30) scale(0.8 1)">1</text>
<circle cx="1031" cy="666.2" r="10.2" fill="#fff" stroke="#2e2e78" stroke-width="1.25"/>
<text x="0" y="0" text-anchor="middle" font-size="13.8" fill="#2e2e78" stroke="#2e2e78" stroke-width="0.3" transform="translate(1028.40 671.20) scale(0.8 1)">7</text>
<text x="0" y="0" text-anchor="middle" font-size="13.8" fill="#2e2e78" stroke="#2e2e78" stroke-width="0.3" transform="translate(1035.40 671.20) scale(0.8 1)">8</text>
<circle cx="1031" cy="693" r="10.2" fill="#fff" stroke="#2e2e78" stroke-width="1.25"/>
<text x="0" y="0" text-anchor="middle" font-size="13.8" fill="#2e2e78" stroke="#2e2e78" stroke-width="0.3" transform="translate(1028.40 698.00) scale(0.8 1)">0</text>
<text x="0" y="0" text-anchor="middle" font-size="13.8" fill="#2e2e78" stroke="#2e2e78" stroke-width="0.3" transform="translate(1035.40 698.00) scale(0.8 1)">2</text>
</svg>
</body></html>
